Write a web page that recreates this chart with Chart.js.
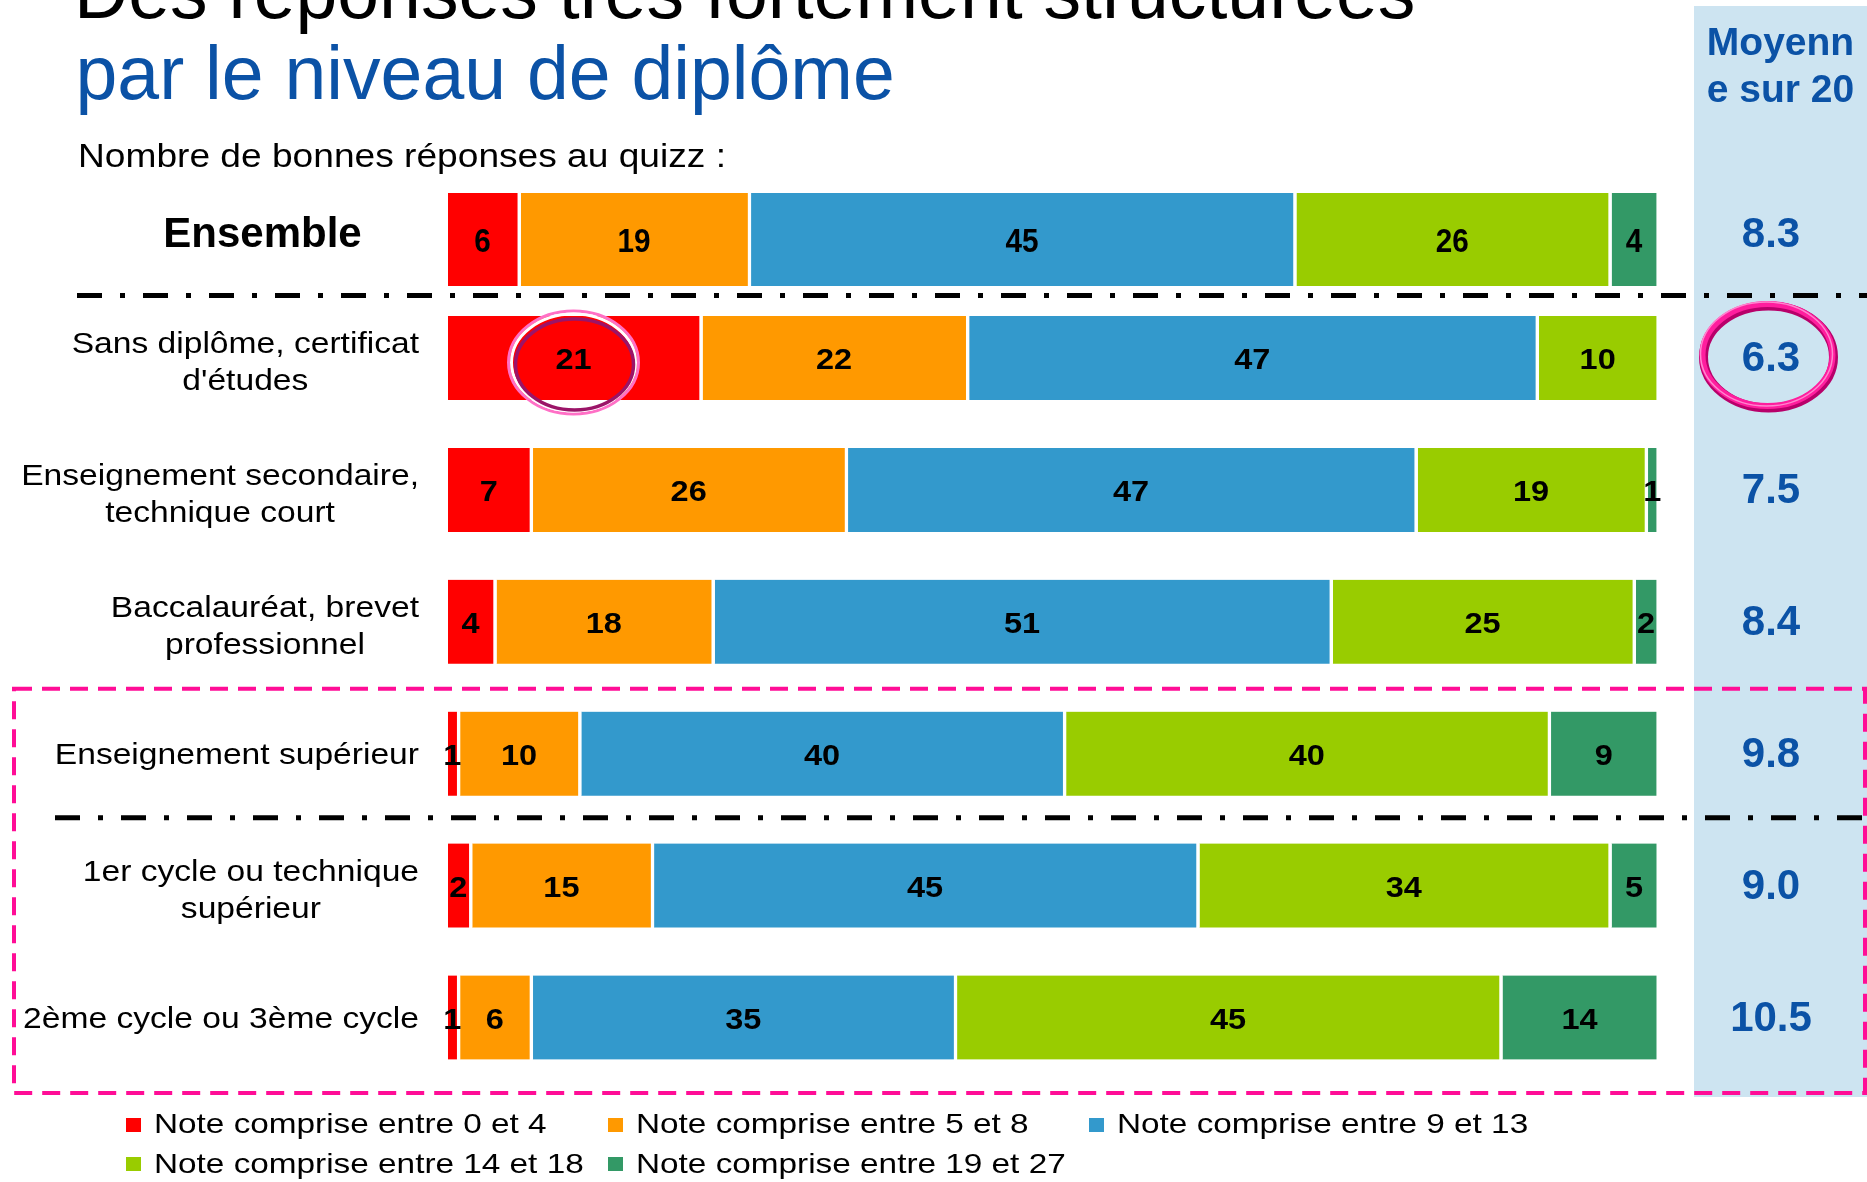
<!DOCTYPE html>
<html lang="fr">
<head>
<meta charset="utf-8">
<title>Des réponses très fortement structurées par le niveau de diplôme</title>
<script src="https://cdn.jsdelivr.net/npm/chart.js@4/dist/chart.umd.min.js"></script>
<style>
  html, body { margin:0; padding:0; background:#fff; width:1867px; height:1182px; overflow:hidden;
    font-family:"Liberation Sans", Arial, sans-serif; }
  #col { position:absolute; left:1694px; top:6px; width:173px; height:1091px; background:#cde4f1; }
  canvas { position:absolute; left:0; top:0; }
  .t { position:absolute; white-space:nowrap; line-height:1; }
  .li { position:absolute; white-space:nowrap; font-size:28px; line-height:28px; height:28px; color:#000; }
  .sq { position:absolute; left:0; top:7.7px; width:15px; height:14px; }
  .lt { position:absolute; left:28px; top:0; transform:scaleX(1.19); transform-origin:0 0; }
</style>
</head>
<body>
<div id="col"></div>
<canvas id="cA" width="1867" height="1182"></canvas>
<canvas id="cB" width="1867" height="1182"></canvas>

<div class="t" style="left:74px; top:-45.4px; font-size:75.2px; color:#000;">Des réponses très fortement structurées</div>
<div class="t" style="left:75.5px; top:35.6px; font-size:75.2px; color:#0b52a6;">par le niveau de diplôme</div>
<div class="t" style="left:78px; top:139.4px; font-size:33px; color:#000; transform:scaleX(1.125); transform-origin:0 0;">Nombre de bonnes réponses au quizz :</div>
<div class="t" style="left:1694px; width:173px; text-align:center; top:22px; font-size:39px; font-weight:bold; color:#0b52a6;">Moyenn</div>
<div class="t" style="left:1694px; width:173px; text-align:center; top:68.7px; font-size:39px; font-weight:bold; color:#0b52a6;">e sur 20</div>
<div id="legend"></div>

<script>
// ---------- DATA ----------
const seriesNames = [
  'Note comprise entre 0 et 4',
  'Note comprise entre 5 et 8',
  'Note comprise entre 9 et 13',
  'Note comprise entre 14 et 18',
  'Note comprise entre 19 et 27'
];
const ensembleLabel = 'Ensemble';
const ensembleValues = [6, 19, 45, 26, 4];
const ensembleMean = 8.3;

const categories = [
  ['Sans diplôme, certificat', "d'études"],
  ['Enseignement secondaire,', 'technique court'],
  ['Baccalauréat, brevet', 'professionnel'],
  ['Enseignement supérieur'],
  ['1er cycle ou technique', 'supérieur'],
  ['2ème cycle ou 3ème cycle']
];
const note0to4   = [21, 7, 4, 1, 2, 1];
const note5to8   = [22, 26, 18, 10, 15, 6];
const note9to13  = [47, 47, 51, 40, 45, 35];
const note14to18 = [10, 19, 25, 40, 34, 45];
const note19to27 = [null, 1, 2, 9, 5, 14];
const means = [6.3, 7.5, 8.4, 9.8, 9.0, 10.5];
const highlightRow = 0;

// ---------- STYLE ----------
const palette = ['#ff0000', '#ff9900', '#3399cc', '#99cc00', '#339966'];
const BLUE = '#0b52a6';
const FONT = '"Liberation Sans", Arial, sans-serif';
const MEAN_X = 1771;
const GAP = 3.5;

function drawScaled(ctx, text, x, y, sx) {
  ctx.save(); ctx.translate(x, y); ctx.scale(sx, 1); ctx.fillText(text, 0, 0); ctx.restore();
}

function drawValueLabels(chart, font, sx, dy) {
  const ctx = chart.ctx, area = chart.chartArea;
  ctx.save();
  ctx.fillStyle = '#000'; ctx.font = font; ctx.textAlign = 'center'; ctx.textBaseline = 'alphabetic';
  chart.data.datasets.forEach((ds, di) => {
    const meta = chart.getDatasetMeta(di);
    meta.data.forEach((el, i) => {
      const v = ds.data[i];
      if (v === null || v === undefined) return;
      const s = Math.min(el.base, el.x);
      const e = Math.min(Math.max(el.base, el.x), area.right) - GAP;
      drawScaled(ctx, String(v), (s + e) / 2, el.y + dy, sx);
    });
  });
  ctx.restore();
}

function datasetsFrom(rows, thickness) {
  return seriesNames.map((name, i) => ({
    label: name,
    data: rows[i],
    backgroundColor: palette[i],
    borderColor: '#ffffff',
    borderWidth: { top: 0, bottom: 0, left: 0, right: GAP },
    borderSkipped: 'start',
    barThickness: thickness,
    clip: { left: 0, top: 0, right: -GAP, bottom: 0 }
  }));
}

function ellipse(ctx, x, y, rx, ry, color, lw) {
  ctx.beginPath(); ctx.ellipse(x, y, rx, ry, 0, 0, Math.PI * 2);
  ctx.strokeStyle = color; ctx.lineWidth = lw; ctx.stroke();
}

// ---------- ENSEMBLE CHART ----------
const ensemblePlugin = {
  id: 'ensembleDecor',
  afterDatasetsDraw(chart) {
    const ctx = chart.ctx;
    drawValueLabels(chart, 'bold 33px ' + FONT, 0.9, 12);
    const c = chart.scales.y.getPixelForValue(0);
    ctx.save();
    ctx.fillStyle = '#000'; ctx.textAlign = 'center'; ctx.textBaseline = 'alphabetic';
    ctx.font = 'bold 42px ' + FONT;
    ctx.fillText(ensembleLabel, 262.5, c + 7);
    ctx.fillStyle = BLUE; ctx.font = 'bold 42px ' + FONT;
    ctx.fillText(ensembleMean.toFixed(1), MEAN_X, c + 7.5);
    ctx.restore();
  }
};

new Chart(document.getElementById('cA'), {
  type: 'bar',
  data: { labels: [ensembleLabel], datasets: datasetsFrom(ensembleValues.map(v => [v]), 93) },
  options: {
    indexAxis: 'y', responsive: false, animation: false, devicePixelRatio: 1,
    layout: { padding: { left: 448, right: 207, top: 193, bottom: 896 } },
    scales: {
      x: { display: false, stacked: true, min: 0, max: 100 },
      y: { display: false, stacked: true }
    },
    plugins: { legend: { display: false }, tooltip: { enabled: false } }
  },
  plugins: [ensemblePlugin]
});

// ---------- MAIN CHART ----------
const mainPlugin = {
  id: 'mainDecor',
  afterDatasetsDraw(chart) {
    const ctx = chart.ctx, area = chart.chartArea, yS = chart.scales.y;
    drawValueLabels(chart, 'bold 29px ' + FONT, 1.12, 11);

    // category labels
    ctx.save();
    ctx.fillStyle = '#000'; ctx.textAlign = 'center'; ctx.textBaseline = 'alphabetic';
    ctx.font = '30px ' + FONT;
    categories.forEach((lab, i) => {
      const c = yS.getPixelForValue(i);
      const widths = lab.map(l => ctx.measureText(l).width * 1.12);
      const maxW = Math.max(...widths);
      const cx = area.left - 29 - maxW / 2;
      const base = lab.length === 1 ? c + 10 : c - 5;
      lab.forEach((l, k) => drawScaled(ctx, l, cx, base + k * 37, 1.12));
    });
    // means
    ctx.fillStyle = BLUE; ctx.font = 'bold 42px ' + FONT;
    means.forEach((m, i) => {
      ctx.fillText(m.toFixed(1), MEAN_X, yS.getPixelForValue(i) + 13);
    });
    ctx.restore();

    // dash-dot separators
    ctx.save();
    ctx.strokeStyle = '#000'; ctx.lineWidth = 5; ctx.setLineDash([25, 18, 5, 18]);
    ctx.beginPath(); ctx.moveTo(77, area.top + 3.5); ctx.lineTo(1867, area.top + 3.5); ctx.stroke();
    const b45 = (yS.getPixelForValue(3) + yS.getPixelForValue(4)) / 2 - 2;
    ctx.beginPath(); ctx.moveTo(55, b45); ctx.lineTo(1867, b45); ctx.stroke();
    ctx.restore();

    // pink dashed frame around higher education
    ctx.save();
    ctx.strokeStyle = '#ff0d96'; ctx.lineWidth = 4; ctx.setLineDash([18, 10]);
    const top = (yS.getPixelForValue(2) + yS.getPixelForValue(3)) / 2 + 1;
    const bottom = area.bottom + 9.5;
    ctx.strokeRect(14, top, 1865 - 14, bottom - top);
    ctx.restore();

    // highlight circles
    ctx.save();
    const el = chart.getDatasetMeta(0).data[highlightRow];
    const cx1 = (el.base + el.x - GAP) / 2, cy1 = el.y + 4.5;
    ellipse(ctx, cx1, cy1, 65, 51.5, '#ff70c6', 3);
    ellipse(ctx, cx1, cy1, 62, 48.5, '#ffffff', 3);
    ellipse(ctx, cx1 + 1, cy1 + 2, 59, 45.5, '#9b1468', 3.5);
    const cy2 = yS.getPixelForValue(highlightRow) - 3, cx2 = MEAN_X - 3.5;
    ellipse(ctx, cx2 + 1, cy2 + 2, 65, 51, '#b8006a', 9);
    ellipse(ctx, cx2, cy2, 65, 51, '#ff1e9e', 6);
    ellipse(ctx, cx2 - 1, cy2 - 1, 66, 52, '#ff86cf', 1.5);
    ctx.restore();
  }
};

const mainChart = new Chart(document.getElementById('cB'), {
  type: 'bar',
  data: {
    labels: categories,
    datasets: datasetsFrom([note0to4, note5to8, note9to13, note14to18, note19to27], 84)
  },
  options: {
    indexAxis: 'y', responsive: false, animation: false, devicePixelRatio: 1,
    layout: { padding: { left: 448, right: 207, top: 292.05, bottom: 98.55 } },
    scales: {
      x: { display: false, stacked: true, min: 0, max: 100 },
      y: { display: false, stacked: true }
    },
    plugins: { legend: { display: false }, tooltip: { enabled: false } }
  },
  plugins: [mainPlugin]
});

// ---------- LEGEND (HTML, from chart datasets) ----------
const legend = document.getElementById('legend');
mainChart.data.datasets.forEach((ds, i) => {
  const col = i % 3, row = Math.floor(i / 3);
  const d = document.createElement('div');
  d.className = 'li';
  d.style.left = (126 + col * 481.5) + 'px';
  d.style.top = (1134 + row * 39.5 - 0.8465 * 28) + 'px';
  const sq = document.createElement('span');
  sq.className = 'sq'; sq.style.background = ds.backgroundColor;
  const tx = document.createElement('span');
  tx.className = 'lt'; tx.textContent = ds.label;
  d.appendChild(sq); d.appendChild(tx);
  legend.appendChild(d);
});
</script>
</body>
</html>
